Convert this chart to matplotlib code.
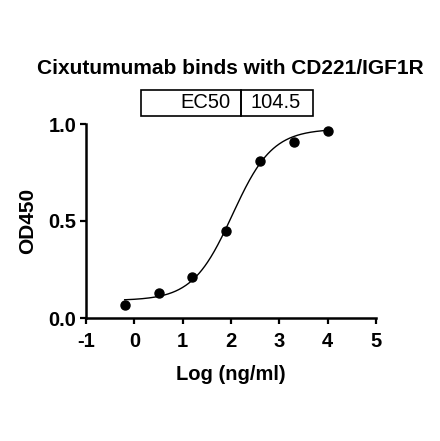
import numpy as np
import matplotlib
matplotlib.use("Agg")
import matplotlib.pyplot as plt
from matplotlib.patches import Rectangle

plt.rcParams['font.family'] = ['Liberation Sans', 'DejaVu Sans']

# data
log_conc = [-0.2, 0.5, 1.2, 1.9, 2.6, 3.3, 4.0]
od450 = [0.069, 0.129, 0.213, 0.449, 0.811, 0.906, 0.964]

# 4PL fit parameters (estimated from the drawn curve)
ec50 = 104.5
log_mid = 2.03
bottom = 0.09
top = 0.975
hill = 1.05

x_ticks = [-1, 0, 1, 2, 3, 4, 5]
y_ticks = [0.0, 0.5, 1.0]

fig = plt.figure(figsize=(4.4, 4.41), dpi=100)
ax = fig.add_axes([86/440, 1-318/441, 290/440, 194/441])

xs = np.linspace(min(log_conc), max(log_conc), 300)
ys = bottom + (top-bottom)/(1+10**((log_mid-xs)*hill))
ax.plot(xs, ys, color='black', lw=1.0)
ax.plot(log_conc, od450, 'o', color='black', ms=6.5, clip_on=False)

ax.set_xlim(-1, 5)
ax.set_ylim(0, 1.0)
ax.set_xticks(x_ticks)
ax.set_xticklabels([str(t) for t in x_ticks])
ax.set_yticks(y_ticks)
ax.set_yticklabels(['%.1f' % t for t in y_ticks])
for s in ['top', 'right']:
    ax.spines[s].set_visible(False)
for s in ['left', 'bottom']:
    ax.spines[s].set_linewidth(1.8)
ax.tick_params(width=1.6, length=4, labelsize=14.5)
ax.tick_params(axis='x', pad=6)
ax.tick_params(axis='y', pad=3)
for lab in ax.get_xticklabels()+ax.get_yticklabels():
    lab.set_fontweight('bold')
ax.set_xlabel('Log (ng/ml)', fontsize=14.5, fontweight='bold', labelpad=10)
ax.set_ylabel('OD450', fontsize=15, fontweight='bold', labelpad=8)

fig.text(230/440, 1-68/441, 'Cixutumumab binds with CD221/IGF1R', ha='center', va='center',
         fontsize=15, fontweight='bold')

# EC50 table
x0, x1, x2 = 141/440, 241/440, 313/440
yb, yt = 1-116/441, 1-90/441
fig.patches.append(Rectangle((x0, yb), x1-x0, yt-yb, transform=fig.transFigure,
                             fill=False, lw=1.2, ec='black'))
fig.patches.append(Rectangle((x1, yb), x2-x1, yt-yb, transform=fig.transFigure,
                             fill=False, lw=1.2, ec='black'))
fig.text(x1-11/440, (yb+yt)/2, 'EC50', ha='right', va='center', fontsize=14.5)
fig.text(x1+9/440, (yb+yt)/2, str(ec50), ha='left', va='center', fontsize=14.5)

fig.savefig('out.png', dpi=100)
